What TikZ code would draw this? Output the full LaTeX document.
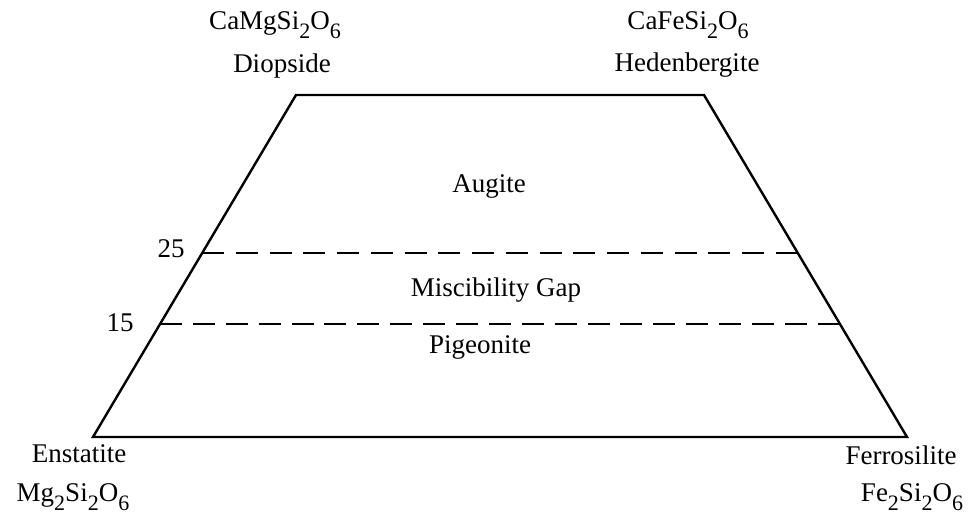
\documentclass[tikz,border=0pt]{standalone}
\usepackage{fontspec}
\setmainfont{Liberation Serif}
\usetikzlibrary{calc}
\newcommand{\chemsub}[1]{\raisebox{-0.3em}{\fontsize{11}{11}\selectfont #1}}

\begin{document}
\begin{tikzpicture}[x=0.5pt,y=-0.5pt]
\tikzstyle{every node}=[font=\fontsize{13.5}{16}\selectfont, inner sep=0pt, anchor=base]
\tikzstyle{edge}=[line width=1.2pt, line join=miter]
\tikzstyle{gap}=[line width=1.2pt, dash pattern=on 11pt off #1]
\useasboundingbox (0,0) rectangle (971,512);

% corners of the quadrilateral
\coordinate (tl) at (296,95);
\coordinate (tr) at (704,95);
\coordinate (bl) at (93,437);
\coordinate (br) at (907,437);
\draw [edge] (tl) -- (tr) -- (br) -- (bl) -- cycle;

% miscibility gap limits
\coordinate (l25) at ($(tl)!0.462!(bl)$);
\coordinate (r25) at ($(tr)!0.462!(br)$);
\coordinate (l15) at ($(tl)!0.6696!(bl)$);
\coordinate (r15) at ($(tr)!0.6696!(br)$);
\draw [gap=5.87pt] (l25) -- (r25);
\draw [gap=5.44pt] (l15) -- (r15);

\node (di formula) at (275,30) {CaMgSi\chemsub{2}O\chemsub{6}};
\node (di) at (282,73) {Diopside};
\node (hd formula) at (688,30) {CaFeSi\chemsub{2}O\chemsub{6}};
\node (hd) at (687,72) {Hedenbergite};
\node (en) at (79,463) {Enstatite};
\node (en formula) at (73,502) {Mg\chemsub{2}Si\chemsub{2}O\chemsub{6}};
\node (fs) at (901,465) {Ferrosilite};
\node (fs formula) at (912,502) {Fe\chemsub{2}Si\chemsub{2}O\chemsub{6}};

\node (n25) at (171,258) {25};
\node (n15) at (120,332) {15};

\node (augite) at (489,193) {Augite};
\node (gap label) at (496,297) {Miscibility Gap};
\node (pigeonite) at (480,354) {Pigeonite};
\end{tikzpicture}
\end{document}
